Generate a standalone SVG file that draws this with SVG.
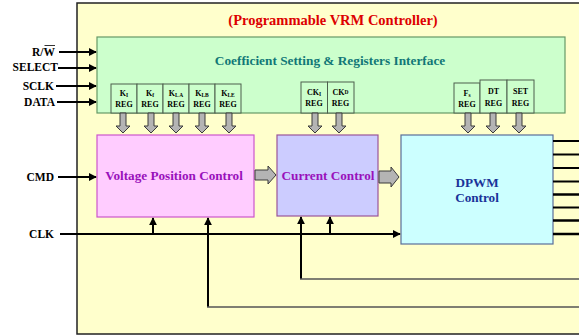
<svg xmlns="http://www.w3.org/2000/svg" width="579" height="335" viewBox="0 0 579 335">
<defs>
<style>
text{font-family:"Liberation Serif","Times New Roman",serif;font-weight:bold}
.lbl{font-size:11.5px;fill:#000;text-anchor:end}
.reg rect{fill:#CCFFCC;stroke:#4D5F4D;stroke-width:1}
.reg text{font-size:8px;fill:#000;text-anchor:middle}
.sub{font-size:5.5px}
.ga{fill:#B4B4B4;stroke:#3A3A3A;stroke-width:1}
.w{stroke:#000;stroke-width:2;fill:none}
.g{stroke:#555;stroke-width:1.5;fill:none}
.o{stroke:#000;fill:none}
.blk{font-size:13.2px;text-anchor:middle}
</style>
<marker id="ah" viewBox="0 0 10 10" refX="9" refY="5" markerWidth="4" markerHeight="4" orient="auto" markerUnits="strokeWidth">
<path d="M0,0 L10,5 L0,10 z" fill="#000"/>
</marker>
</defs>

<rect x="0" y="0" width="579" height="335" fill="#fff"/>
<g id="controller">
<rect x="77" y="3" width="510" height="331" fill="#FFFFCC" stroke="#222" stroke-width="1.5"/>
<text x="333" y="25" font-size="14.5" fill="#DD0000" text-anchor="middle">(Programmable VRM Controller)</text>
</g>

<g id="interface">
<rect x="97" y="37" width="468" height="76" fill="#CCFFCC" stroke="#669966" stroke-width="1.2"/>
<text x="330" y="65" font-size="13.3" fill="#117777" text-anchor="middle">Coefficient Setting &amp; Registers Interface</text>
</g>

<g id="reg-ki" class="reg"><rect x="111" y="84" width="26" height="29"/><text x="124" y="96">K<tspan class="sub" dy="1">I</tspan></text><text x="124" y="107">REG</text></g>
<g id="reg-kf" class="reg"><rect x="137" y="84" width="26" height="29"/><text x="150" y="96">K<tspan class="sub" dy="1">f</tspan></text><text x="150" y="107">REG</text></g>
<g id="reg-kla" class="reg"><rect x="163" y="84" width="26" height="29"/><text x="176" y="96">K<tspan class="sub" dy="1">L A</tspan></text><text x="176" y="107">REG</text></g>
<g id="reg-klb" class="reg"><rect x="189" y="84" width="26" height="29"/><text x="202" y="96">K<tspan class="sub" dy="1">LB</tspan></text><text x="202" y="107">REG</text></g>
<g id="reg-kle" class="reg"><rect x="215" y="84" width="26" height="29"/><text x="228" y="96">K<tspan class="sub" dy="1">LE</tspan></text><text x="228" y="107">REG</text></g>

<g id="reg-cki" class="reg"><rect x="301" y="82" width="26.5" height="31"/><text x="314" y="95">CK<tspan class="sub" dy="1">I</tspan></text><text x="314" y="106">REG</text></g>
<g id="reg-ckd" class="reg"><rect x="327.5" y="82" width="26.5" height="31"/><text x="340.5" y="95">CK<tspan class="sub" dy="-1">D</tspan></text><text x="340.5" y="106">REG</text></g>

<g id="reg-fs" class="reg"><rect x="454" y="83" width="26" height="30"/><text x="467" y="96">F<tspan class="sub" dy="1">s</tspan></text><text x="467" y="107">REG</text></g>
<g id="reg-dt" class="reg"><rect x="480" y="80" width="27" height="33"/><text x="493.5" y="94">DT</text><text x="493.5" y="106">REG</text></g>
<g id="reg-set" class="reg"><rect x="507" y="80" width="27" height="33"/><text x="520.5" y="94">SET</text><text x="520.5" y="106">REG</text></g>

<g id="vpc">
<rect x="97" y="135" width="157" height="82" fill="#FFCCFF" stroke="#CC55CC" stroke-width="1.2"/>
<text class="blk" x="174" y="180" fill="#9911BB">Voltage Position Control</text>
</g>
<g id="cc">
<rect x="277" y="135" width="101" height="81" fill="#CCCCFF" stroke="#995599" stroke-width="1.2"/>
<text class="blk" x="328" y="180" fill="#9911BB">Current Control</text>
</g>
<g id="dpwm">
<rect x="401" y="135" width="152" height="109" fill="#CCFFFF" stroke="#5A6E99" stroke-width="1.2"/>
<text class="blk" x="477" y="187" fill="#1A3399">DPWM</text>
<text class="blk" x="477" y="202" fill="#1A3399">Control</text>
</g>

<g id="labels">
<text class="lbl" x="55" y="56">R/W</text>
<line x1="44.5" y1="45.5" x2="55" y2="45.5" stroke="#000" stroke-width="0.8"/>
<text class="lbl" x="58" y="71">SELECT</text>
<text class="lbl" x="54" y="90">SCLK</text>
<text class="lbl" x="55" y="106">DATA</text>
<text class="lbl" x="54" y="181">CMD</text>
<text class="lbl" x="54" y="238">CLK</text>
</g>

<g id="connectors">
<line class="w" x1="59" y1="52" x2="96" y2="52" marker-end="url(#ah)"/>
<line class="w" x1="58" y1="68" x2="96" y2="68" marker-end="url(#ah)"/>
<line class="w" x1="56" y1="86" x2="96" y2="86" marker-end="url(#ah)"/>
<line class="w" x1="57" y1="102" x2="96" y2="102" marker-end="url(#ah)"/>
<line class="w" x1="58" y1="177" x2="96" y2="177" marker-end="url(#ah)"/>
<line class="w" x1="60" y1="234" x2="400" y2="234" marker-end="url(#ah)"/>
<line class="w" x1="153" y1="234" x2="153" y2="218" marker-end="url(#ah)"/>
<line class="w" x1="330" y1="234" x2="330" y2="217" marker-end="url(#ah)"/>
<polyline class="w" points="208,307 208,218" marker-end="url(#ah)"/>
<polyline class="w" points="301,279 301,217" marker-end="url(#ah)"/>
<line class="g" x1="207" y1="307" x2="579" y2="307"/>
<line class="g" x1="300" y1="279" x2="579" y2="279"/>

<path class="ga" d="M120,113 h6 v13 h4 l-7,7 l-7,-7 h4 z"/>
<path class="ga" d="M148,113 h6 v13 h4 l-7,7 l-7,-7 h4 z"/>
<path class="ga" d="M173,113 h6 v13 h4 l-7,7 l-7,-7 h4 z"/>
<path class="ga" d="M199,113 h6 v13 h4 l-7,7 l-7,-7 h4 z"/>
<path class="ga" d="M226,113 h6 v13 h4 l-7,7 l-7,-7 h4 z"/>
<path class="ga" d="M312,113 h6 v13 h4 l-7,7 l-7,-7 h4 z"/>
<path class="ga" d="M336,113 h6 v13 h4 l-7,7 l-7,-7 h4 z"/>
<path class="ga" d="M465,113 h6 v13 h4 l-7,7 l-7,-7 h4 z"/>
<path class="ga" d="M490,113 h6 v13 h4 l-7,7 l-7,-7 h4 z"/>
<path class="ga" d="M516,113 h6 v13 h4 l-7,7 l-7,-7 h4 z"/>

<path class="ga" d="M255,170 h13 v-4 l8,9 l-8,9 v-4 h-13 z"/>
<path class="ga" d="M379,171 h12 v-4 l8,10 l-8,10 v-4 h-12 z"/>

<line class="o" x1="553" y1="141" x2="579" y2="141" stroke-width="2"/>
<line class="o" x1="553" y1="154.5" x2="579" y2="154.5" stroke-width="2"/>
<line class="o" x1="553" y1="168" x2="579" y2="168" stroke-width="2"/>
<line class="o" x1="553" y1="181.5" x2="579" y2="181.5" stroke-width="2"/>
<line class="o" x1="553" y1="194.5" x2="579" y2="194.5" stroke-width="2.5"/>
<line class="o" x1="553" y1="207.5" x2="579" y2="207.5" stroke-width="2"/>
<line class="o" x1="553" y1="220.5" x2="579" y2="220.5" stroke-width="2.5"/>
<line class="o" x1="553" y1="234" x2="579" y2="234" stroke-width="2.5"/>
</g>
</svg>
